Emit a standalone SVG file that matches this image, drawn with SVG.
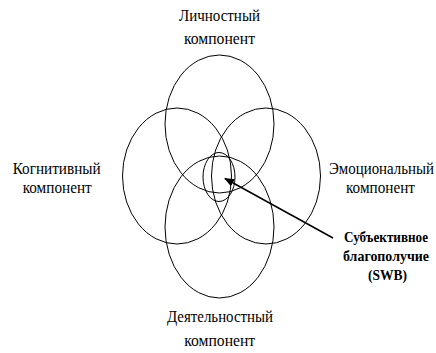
<svg xmlns="http://www.w3.org/2000/svg" width="436" height="353" viewBox="0 0 436 353">
<defs>
<style>
.c{fill:none;stroke:#000;stroke-width:1}
.t{font-size:17px;text-anchor:middle}
.b{font-size:15px;font-weight:bold;text-anchor:middle}
</style>
<marker id="ah" markerWidth="10" markerHeight="8" refX="9" refY="4" orient="auto" markerUnits="userSpaceOnUse">
<path d="M0,0 L10,4 L0,8 Z" fill="#000"/>
</marker>
</defs>
<rect width="436" height="353" fill="#fff"/>
<g fill="#000">
<g id="personal">
<ellipse class="c" cx="219.5" cy="124" rx="54.5" ry="69"/>
<text class="t" font-family="Liberation Serif" x="219.5" y="21" textLength="81" lengthAdjust="spacingAndGlyphs">Личностный</text>
<text class="t" font-family="Liberation Serif" x="219.5" y="44" textLength="71" lengthAdjust="spacingAndGlyphs">компонент</text>
</g>
<g id="cognitive">
<ellipse class="c" cx="177" cy="176" rx="54.5" ry="68"/>
<text class="t" font-family="Liberation Serif" x="56.7" y="173.5" textLength="88" lengthAdjust="spacingAndGlyphs">Когнитивный</text>
<text class="t" font-family="Liberation Serif" x="57.2" y="192.5" textLength="69" lengthAdjust="spacingAndGlyphs">компонент</text>
</g>
<g id="emotional">
<ellipse class="c" cx="266" cy="176" rx="54.5" ry="68"/>
<text class="t" font-family="Liberation Serif" x="381.5" y="173.5" textLength="105" lengthAdjust="spacingAndGlyphs">Эмоциональный</text>
<text class="t" font-family="Liberation Serif" x="380.5" y="192.5" textLength="69" lengthAdjust="spacingAndGlyphs">компонент</text>
</g>
<g id="activity">
<ellipse class="c" cx="219.5" cy="227" rx="54.5" ry="71"/>
<text class="t" font-family="Liberation Serif" x="220" y="322" textLength="106" lengthAdjust="spacingAndGlyphs">Деятельностный</text>
<text class="t" font-family="Liberation Serif" x="219.7" y="345.5" textLength="71" lengthAdjust="spacingAndGlyphs">компонент</text>
</g>
<g id="swb">
<ellipse class="c" cx="219" cy="177" rx="16" ry="24.5"/>
<text class="b" font-family="Liberation Serif" x="386" y="242" textLength="84" lengthAdjust="spacingAndGlyphs">Субъективное</text>
<text class="b" font-family="Liberation Serif" x="386" y="261" textLength="86" lengthAdjust="spacingAndGlyphs">благополучие</text>
<text class="b" font-family="Liberation Serif" x="387.5" y="280" textLength="39" lengthAdjust="spacingAndGlyphs">(SWB)</text>
</g>
</g>
<g id="connectors">
<line x1="333" y1="238" x2="225" y2="178.5" stroke="#000" stroke-width="1.5" marker-end="url(#ah)"/>
</g>
</svg>
